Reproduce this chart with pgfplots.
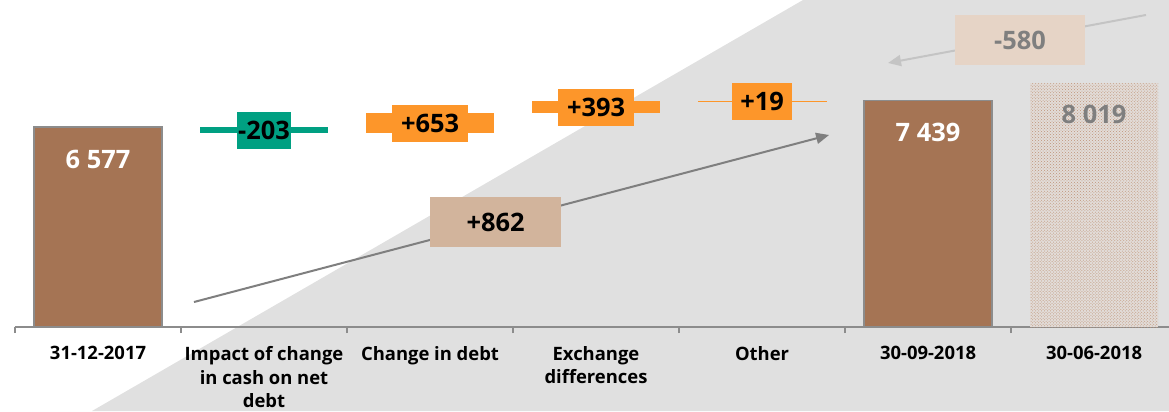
\documentclass[border=0pt]{standalone}
\usepackage{pgfplots}
\pgfplotsset{compat=1.18}
\usepackage{fontspec}
\setmainfont{Open Sans}
\usetikzlibrary{patterns,arrows.meta}
\definecolor{brownbar}{HTML}{A57454}
\definecolor{tealbar}{HTML}{00A082}
\definecolor{orangebar}{HTML}{FD962A}
\definecolor{bggray}{HTML}{E0E0E0}
\definecolor{axgray}{HTML}{8C8C8C}
\definecolor{tanA}{HTML}{D2B49C}
\definecolor{tanB}{HTML}{E6D4C6}
\definecolor{arrowdark}{HTML}{7F7F7F}
\definecolor{arrowlight}{HTML}{C4C4C4}
\definecolor{dotfill}{HTML}{E2DCD8}
\definecolor{dotcol}{HTML}{BF9478}
\newcommand{\vlab}{\fontsize{25.5}{28}\selectfont\bfseries}
\newcommand{\tlab}{\fontsize{18.5}{23.5}\selectfont\bfseries}
\begin{document}
\begin{tikzpicture}[x=1bp,y=1bp]
\useasboundingbox (-15,-84) rectangle (1154,327);
\fill[bggray] (788,327) -- (77,-84) -- (1154,-84) -- (1154,327) -- cycle;
\begin{axis}[
  at={(0,0)}, anchor=south west,
  scale only axis, width=1154bp, height=327bp,
  xmin=-0.5, xmax=6.4518, ymin=0, ymax=10758,
  axis x line*=bottom, axis y line=none,
  x axis line style={draw=axgray, line width=2bp},
  xtick={0,...,6},
  xticklabels={31-12-2017, {Impact of change\\in cash on net\\debt}, Change in debt, {Exchange\\differences}, Other, 30-09-2018, 30-06-2018},
  xticklabel style={font=\tlab, align=center, text=black, yshift=-16bp},
  major tick length=0pt,
  extra x ticks={-0.5,0.5,1.5,2.5,3.5,4.5,5.5},
  extra x tick labels={},
  extra x tick style={major tick length=6bp, tick align=outside, tick style={draw=axgray, line width=1.5bp}},
  clip=false,
]
% start / end bars
\addplot[ybar, bar width=0.771, bar shift=0pt, fill=brownbar, draw=axgray, line width=1.2bp,
  point meta=explicit symbolic, nodes near coords,
  nodes near coords style={font=\vlab, text=white, anchor=center, yshift=-32bp}]
  coordinates {(0,6577) [6 577] (5,7439) [7 439]};
% 30-06-2018 dotted bar
\addplot[ybar, bar width=0.771, bar shift=0pt, draw=none, fill=dotfill] coordinates {(6,8019)};
\addplot[ybar, bar width=0.771, bar shift=0pt, draw=none, pattern=crosshatch dots, pattern color=dotcol] coordinates {(6,8019)};
\addplot[ybar, bar width=0.771, bar shift=0pt, draw=none, fill=none,
  point meta=explicit symbolic, nodes near coords,
  nodes near coords style={font=\vlab, text=arrowdark, anchor=center, yshift=-31bp}]
  coordinates {(6,8019) [8 019]};
% floating bars
\addplot[fill=tealbar, draw=none] coordinates {(0.6145,6374) (1.3855,6374) (1.3855,6577) (0.6145,6577)};
\addplot[fill=orangebar, draw=none] coordinates {(1.6145,6374) (2.3855,6374) (2.3855,7027) (1.6145,7027)};
\addplot[fill=orangebar, draw=none] coordinates {(2.6145,7027) (3.3855,7027) (3.3855,7420) (2.6145,7420)};
\addplot[fill=orangebar, draw=orangebar, line width=0.6bp] coordinates {(3.6145,7420) (4.3855,7420) (4.3855,7439) (3.6145,7439)};
% value boxes
\node[fill=tealbar, font=\vlab, inner xsep=1.5bp, inner ysep=0pt, minimum height=37bp] at (axis cs:1,6475) {-203};
\node[fill=orangebar, font=\vlab, inner xsep=9bp, inner ysep=0pt, minimum height=37bp] at (axis cs:2,6700) {+653};
\node[fill=orangebar, font=\vlab, inner xsep=9bp, inner ysep=0pt, minimum height=37bp] at (axis cs:3,7223) {+393};
\node[fill=orangebar, font=\vlab, inner xsep=8.5bp, inner ysep=0pt, minimum height=37bp] at (axis cs:4,7430) {+19};
% arrows
\draw[arrowdark, line width=2bp, -{Triangle[length=13bp,width=11bp]}] (axis cs:0.578,822) -- (axis cs:4.404,6317);
\node[fill=tanA, font=\vlab, minimum width=131bp, minimum height=50bp] at (axis cs:2.395,3454) {+862};
\draw[arrowlight, line width=2bp, -{Triangle[length=13bp,width=11bp]}] (axis cs:6.313,10265) -- (axis cs:4.759,8686);
\node[fill=tanB, font=\vlab, text=arrowdark, minimum width=130bp, minimum height=50bp] at (axis cs:5.554,9442) {-580};
\end{axis}
\end{tikzpicture}
\end{document}
